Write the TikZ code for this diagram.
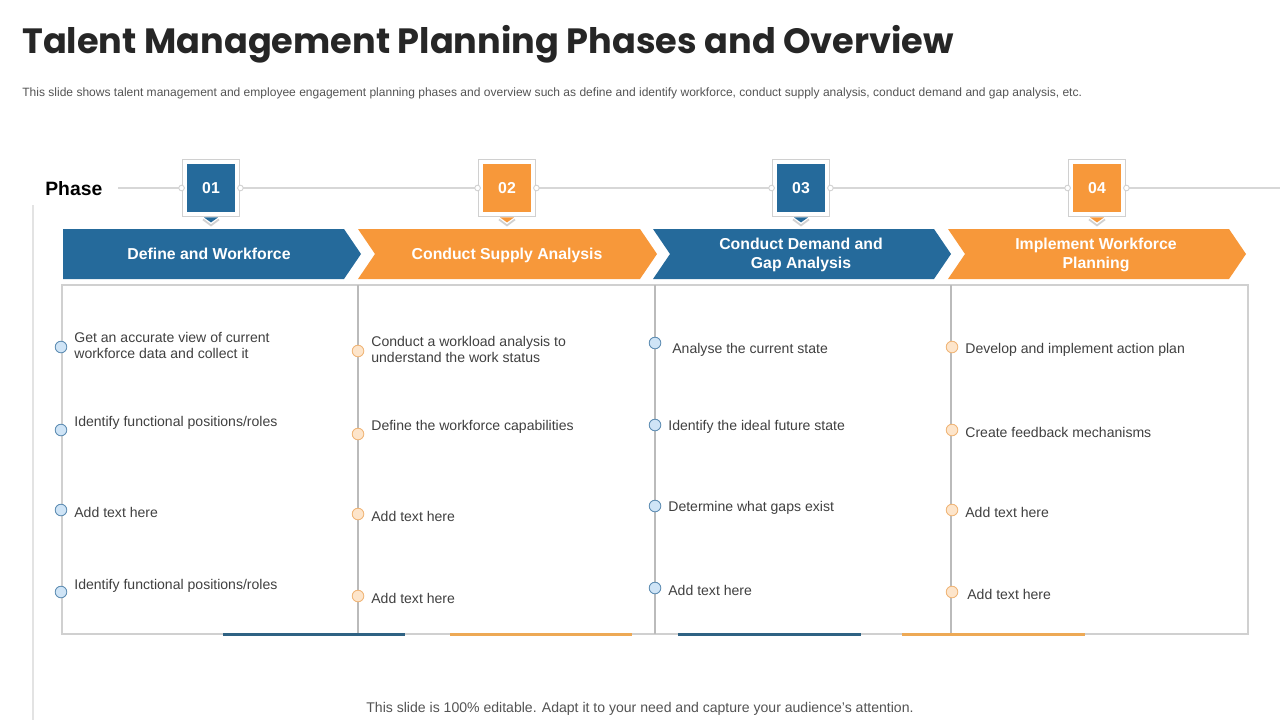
\documentclass[tikz,border=0pt]{standalone}
\usepackage{fontspec}
\setmainfont{Liberation Sans}
\newfontfamily\titlefont{Poppins}
\usetikzlibrary{calc}
\definecolor{azul}{HTML}{256A9B}
\definecolor{naranja}{HTML}{F7983A}
\definecolor{azulbarra}{HTML}{2F6283}
\definecolor{naranjabarra}{HTML}{EDA955}
\definecolor{azulclaro}{HTML}{CFE4F6}
\definecolor{azulborde}{HTML}{5E8DB3}
\definecolor{naranjaclaro}{HTML}{FDE5CB}
\definecolor{naranjaborde}{HTML}{F0B577}
\definecolor{gris}{HTML}{D0D0D0}
\definecolor{texto}{HTML}{404040}
\definecolor{titulo}{HTML}{262626}

\begin{document}
\begin{tikzpicture}[x=0.02cm,y=-0.02cm,
  txt/.style={anchor=west,inner sep=0pt,align=left,text=texto,font=\fontsize{8}{9.1}\selectfont},
  bdot/.style={circle,draw=azulborde,fill=azulclaro,minimum size=6.6pt,inner sep=0pt,line width=0.5pt},
  odot/.style={circle,draw=naranjaborde,fill=naranjaclaro,minimum size=6.6pt,inner sep=0pt,line width=0.5pt},
  marco/.style={draw=gris,fill=white,minimum size=32.9pt,inner sep=0pt,line width=0.6pt},
  numbox/.style={minimum size=27.2pt,inner sep=0pt,text=white,font=\bfseries\fontsize{9}{10}\selectfont},
  nudo/.style={circle,draw=gris,fill=white,minimum size=3.2pt,inner sep=0pt,line width=0.5pt},
  band/.style={text=white,align=center,inner sep=0pt,font=\bfseries\fontsize{9}{10.8}\selectfont}]
\useasboundingbox (0,0) rectangle (1280,720);

% Titulo
\node[anchor=base west,inner sep=0pt,text=titulo,font=\titlefont\bfseries\fontsize{20}{24}\selectfont] (title) at (22,53) {Talent Management Planning Phases and Overview};
\node[anchor=base west,inner sep=0pt,text=texto!90,font=\fontsize{6.85}{8}\selectfont] (subtitle) at (22,96) {This slide shows talent management and employee engagement planning phases and overview such as define and identify workforce, conduct supply analysis, conduct demand and gap analysis, etc.};

% Linea izquierda
\draw[gris!60,line width=0.6pt] (33,205) -- (33,720);

% Fases
\node[anchor=base west,inner sep=0pt,font=\bfseries\fontsize{11}{13}\selectfont] (phase) at (45,195) {Phase};
\coordinate (l0) at (118,188);
\coordinate (l1) at (1280,188);
\draw[gris!85,line width=0.6pt] (l0) -- (l1);

\node[marco] (m1) at (211,188) {};
\node[marco] (m2) at (507,188) {};
\node[marco] (m3) at (801,188) {};
\node[marco] (m4) at (1097,188) {};
\node[numbox,fill=azul] (n1) at (m1) {01};
\node[numbox,fill=naranja] (n2) at (m2) {02};
\node[numbox,fill=azul] (n3) at (m3) {03};
\node[numbox,fill=naranja] (n4) at (m4) {04};
\node[nudo] at (m1.west) {}; \node[nudo] at (m1.east) {};
\node[nudo] at (m2.west) {}; \node[nudo] at (m2.east) {};
\node[nudo] at (m3.west) {}; \node[nudo] at (m3.east) {};
\node[nudo] at (m4.west) {}; \node[nudo] at (m4.east) {};

% Flechitas bajo los numeros
\fill[azul] ($(m1.south)+(-7,0)$) -- ($(m1.south)+(7,0)$) -- ($(m1.south)+(0,5)$) -- cycle;
\fill[naranja] ($(m2.south)+(-7,0)$) -- ($(m2.south)+(7,0)$) -- ($(m2.south)+(0,5)$) -- cycle;
\fill[azul] ($(m3.south)+(-7,0)$) -- ($(m3.south)+(7,0)$) -- ($(m3.south)+(0,5)$) -- cycle;
\fill[naranja] ($(m4.south)+(-7,0)$) -- ($(m4.south)+(7,0)$) -- ($(m4.south)+(0,5)$) -- cycle;
\draw[gris,line width=1pt] ($(m1.south)+(-8,2)$) -- ($(m1.south)+(0,8)$) -- ($(m1.south)+(8,2)$);
\draw[gris,line width=1pt] ($(m2.south)+(-8,2)$) -- ($(m2.south)+(0,8)$) -- ($(m2.south)+(8,2)$);
\draw[gris,line width=1pt] ($(m3.south)+(-8,2)$) -- ($(m3.south)+(0,8)$) -- ($(m3.south)+(8,2)$);
\draw[gris,line width=1pt] ($(m4.south)+(-8,2)$) -- ($(m4.south)+(0,8)$) -- ($(m4.south)+(8,2)$);

% Bandas
\fill[azul] (63,229) -- (344,229) -- (361,254) -- (344,279) -- (63,279) -- cycle;
\fill[naranja] (358,229) -- (640,229) -- (657,254) -- (640,279) -- (358,279) -- (375,254) -- cycle;
\fill[azul] (653,229) -- (934,229) -- (951,254) -- (934,279) -- (653,279) -- (670,254) -- cycle;
\fill[naranja] (948,229) -- (1229,229) -- (1246,254) -- (1229,279) -- (948,279) -- (965,254) -- cycle;
\node[band] (b1) at (209,254) {Define and Workforce};
\node[band] (b2) at (507,255) {Conduct Supply Analysis};
\node[band] (b3) at (801,255) {Conduct Demand and\\Gap Analysis};
\node[band] (b4) at (1096,255) {Implement Workforce\\Planning};

% Tabla
\draw[gris,line width=0.9pt] (62,285) rectangle (1248,634);
\draw[gris!90!black,line width=0.6pt] (358,285) -- (358,634);
\draw[gris!90!black,line width=0.6pt] (655,285) -- (655,634);
\draw[gris!90!black,line width=0.6pt] (951,285) -- (951,634);

% Barras inferiores
\draw[azulbarra,line width=1.7pt] (223,634) -- (405,634);
\draw[naranjabarra,line width=1.7pt] (450,634) -- (632,634);
\draw[azulbarra,line width=1.7pt] (678,634) -- (861,634);
\draw[naranjabarra,line width=1.7pt] (902,634) -- (1085,634);

% Columna 1
\node[bdot] (d11) at (61,347) {};
\node[bdot] (d12) at (61,430) {};
\node[bdot] (d13) at (61,510) {};
\node[bdot] (d14) at (61,592) {};
\node[txt] (t11) at (74,345) {Get an accurate view of current\\workforce data and collect it};
\node[txt] (t12) at (74,423) {Identify functional positions/roles};
\node[txt] (t13) at (74,512) {Add text here};
\node[txt] (t14) at (74,586) {Identify functional positions/roles};

% Columna 2
\node[odot] (d21) at (358,351) {};
\node[odot] (d22) at (358,434) {};
\node[odot] (d23) at (358,514) {};
\node[odot] (d24) at (358,596) {};
\node[txt] (t21) at (371,349) {Conduct a workload analysis to\\understand the work status};
\node[txt] (t22) at (371,427) {Define the workforce capabilities};
\node[txt] (t23) at (371,516) {Add text here};
\node[txt] (t24) at (371,598) {Add text here};

% Columna 3
\node[bdot] (d31) at (655,343) {};
\node[bdot] (d32) at (655,425) {};
\node[bdot] (d33) at (655,506) {};
\node[bdot] (d34) at (655,588) {};
\node[txt] (t31) at (672,350) {Analyse the current state};
\node[txt] (t32) at (668,427) {Identify the ideal future state};
\node[txt] (t33) at (668,508) {Determine what gaps exist};
\node[txt] (t34) at (668,590) {Add text here};

% Columna 4
\node[odot] (d41) at (952,347) {};
\node[odot] (d42) at (952,430) {};
\node[odot] (d43) at (952,510) {};
\node[odot] (d44) at (952,592) {};
\node[txt] (t41) at (965,350) {Develop and implement action plan};
\node[txt] (t42) at (965,432) {Create feedback mechanisms};
\node[txt] (t43) at (965,512) {Add text here};
\node[txt] (t44) at (967,594) {Add text here};

% Pie
\node[inner sep=0pt,text=texto!90,font=\fontsize{8}{9}\selectfont] (footer) at (640,709) {This slide is 100\% editable. Adapt it to your need and capture your audience’s attention.};
\end{tikzpicture}
\end{document}
